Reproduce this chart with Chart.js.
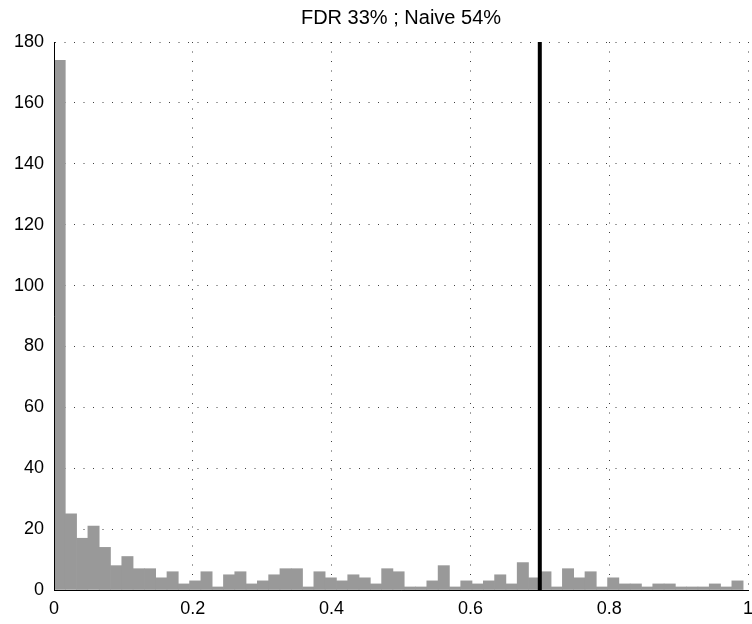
<!DOCTYPE html>
<html>
<head>
<meta charset="utf-8">
<script src="https://cdn.jsdelivr.net/npm/chart.js@4.4.1/dist/chart.umd.min.js"></script>
<style>
  html, body { margin: 0; padding: 0; background: #fff; }
  #wrap { width: 752px; height: 624px; }
</style>
</head>
<body>
<div id="wrap"><canvas id="myChart" width="752" height="624"></canvas></div>
<script>
// histogram counts, 61 bins from binLo to binHi
var counts = [174, 25, 17, 21, 14, 8, 11, 7, 7, 4, 6, 2, 3, 6, 1, 5,
    6, 2, 3, 5, 7, 7, 1, 6, 4, 3, 5, 4, 2, 7, 6,
    1, 1, 3, 8, 1, 3, 2, 3, 5, 2, 9, 4, 6, 1, 7,
    4, 6, 1, 4, 2, 2, 1, 2, 2, 1, 1, 1, 2, 1, 3];
var binLo = 0;
var binHi = 0.993;

// threshold line
var threshold = 0.7;
var yRange = [0, 180];

var titleText = "FDR 33% ; Naive 54%";

//Build bar points from the bins
var binWidth = (binHi - binLo) / counts.length;
var barPoints = counts.map(function (c, i) {
    return { x: binLo + (i + 0.5) * binWidth, y: c };
});
var linePoints = yRange.map(function (v) { return { x: threshold, y: v }; });

var gridStyle = {
    color: "rgba(0,0,0,0.75)",
    lineWidth: 1,
    drawTicks: false,
    offset: false
};

var ctx = document.getElementById("myChart").getContext("2d");
var myChart = new Chart(ctx, {
    type: "bar",
    data: {
        datasets: [
            {
                type: "line",
                data: linePoints,
                borderColor: "#000",
                borderWidth: 4,
                pointRadius: 0,
                order: 0
            },
            {
                data: barPoints,
                backgroundColor: "#999999",
                borderWidth: 0,
                barPercentage: 1,
                categoryPercentage: 1,
                order: 1
            }
        ]
    },
    options: {
        responsive: false,
        animation: false,
        layout: { padding: { left: 0, right: 4, top: 0, bottom: 0 } },
        plugins: {
            legend: { display: false },
            tooltip: { enabled: false },
            title: {
                display: true,
                fullSize: false,
                text: titleText,
                color: "#000",
                font: { family: "Liberation Sans, Arial", size: 20, weight: "normal" },
                padding: { top: 6, bottom: 12 }
            }
        },
        scales: {
            x: {
                type: "linear",
                min: 0,
                max: 1,
                offset: false,
                grid: gridStyle,
                border: { display: true, color: "#000", width: 1, dash: [1, 8.5] },
                ticks: {
                    stepSize: 0.2,
                    color: "#000",
                    padding: 8,
                    maxRotation: 0,
                    font: { family: "Liberation Sans, Arial", size: 18 },
                    callback: function (v) { return String(+v.toFixed(2)); }
                },
                afterFit: function (scale) {
                    scale.height = 34;
                    scale.paddingLeft = 0;
                    scale.paddingRight = 0;
                }
            },
            y: {
                min: yRange[0],
                max: yRange[1],
                grid: gridStyle,
                border: { display: true, color: "#000", width: 1, dash: [1, 8.5] },
                ticks: {
                    stepSize: 20,
                    color: "#000",
                    padding: 10,
                    font: { family: "Liberation Sans, Arial", size: 18 }
                },
                afterFit: function (scale) {
                    scale.width = 54;
                }
            }
        }
    },
    plugins: [{
        // solid left and bottom axis lines, dotted grid elsewhere
        id: "axisLines",
        afterDatasetsDraw: function (chart) {
            var a = chart.chartArea;
            var c = chart.ctx;
            c.save();
            c.strokeStyle = "#000";
            c.lineWidth = 1;
            c.beginPath();
            c.moveTo(a.left + 0.5, a.top);
            c.lineTo(a.left + 0.5, a.bottom + 0.5);
            c.lineTo(a.right, a.bottom + 0.5);
            c.stroke();
            c.restore();
        }
    }]
});
</script>
</body>
</html>
